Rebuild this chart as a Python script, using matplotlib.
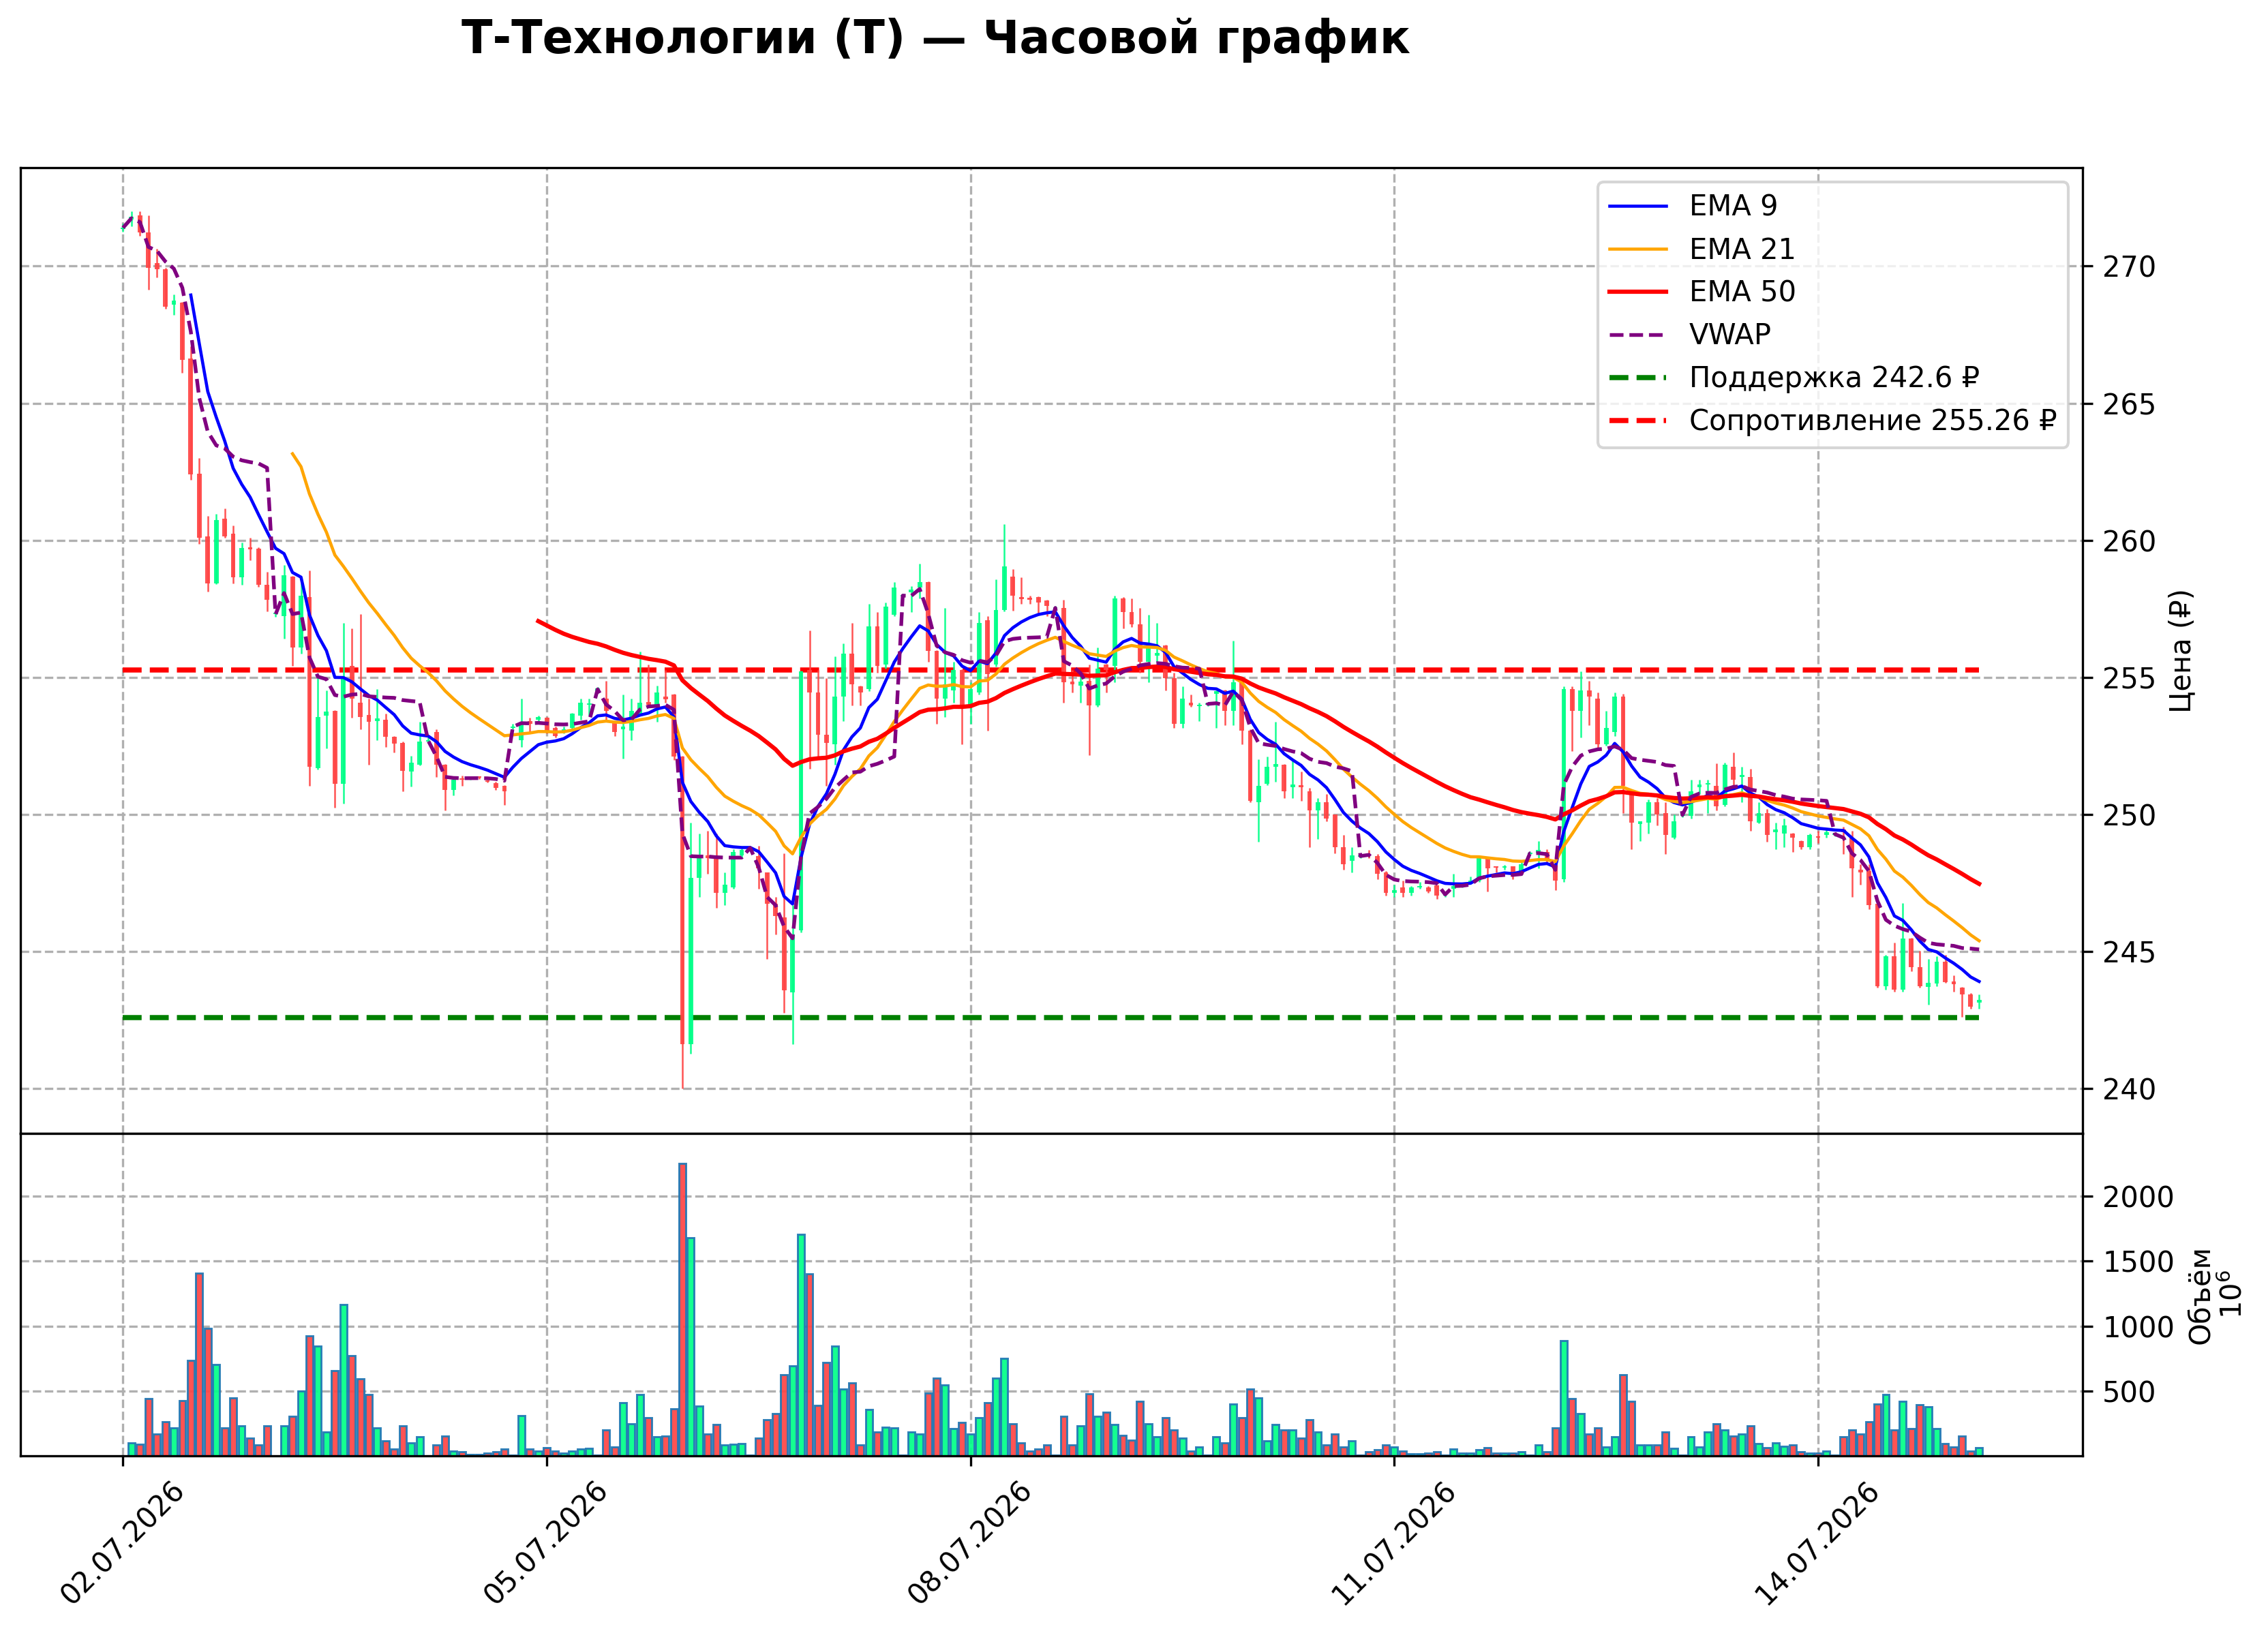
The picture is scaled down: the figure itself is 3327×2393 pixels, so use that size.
import numpy as np
import pandas as pd
import matplotlib
matplotlib.use('Agg')
import matplotlib.pyplot as plt

title = 'Т-Технологии (T) — Часовой график'

# trading days and number of hourly candles in each
day_dates = ['02.07.2026', '03.07.2026', '04.07.2026', '05.07.2026', '06.07.2026',
             '07.07.2026', '08.07.2026', '09.07.2026', '10.07.2026', '11.07.2026',
             '12.07.2026', '13.07.2026', '14.07.2026', '15.07.2026']
day_counts = [18, 18, 10, 10, 18, 18, 18, 18, 18, 10, 10, 18, 18, 18]

opens = [
    271.35, 271.70, 271.84, 271.23, 270.10, 269.88, 268.60, 268.67, 266.63, 262.44, 260.15, 258.43, 260.78, 260.24, 258.64, 259.75, 259.70, 258.37,
    257.30, 257.23, 258.67, 256.08, 257.92, 251.69, 253.60, 253.77, 251.11, 255.42, 254.07, 253.62, 253.40, 253.46, 252.83, 252.62, 251.57, 251.81,
    252.65, 253.01, 251.81, 250.90, 251.32, 251.30, 251.36, 251.25, 251.15, 251.05,
    253.15, 252.71, 253.40, 253.45, 253.52, 253.16, 253.05, 253.16, 253.61, 254.00,
    254.50, 254.22, 253.37, 253.12, 253.07, 253.61, 254.10, 253.98, 254.30, 254.37, 252.11, 241.63, 247.68, 248.50, 248.49, 247.14, 247.35, 248.50,
    248.75, 248.49, 247.89, 246.75, 246.24, 243.52, 245.78, 255.27, 254.46, 252.92, 252.56, 254.31, 255.87, 254.67, 254.58, 256.87, 255.48, 257.29,
    257.95, 258.10, 258.28, 258.49, 255.96, 254.22, 254.52, 255.27, 253.98, 254.46, 257.08, 255.48, 257.47, 258.67, 257.92, 257.90, 257.92, 257.80,
    257.50, 257.53, 254.85, 254.70, 254.88, 253.98, 255.48, 255.42, 257.89, 257.38, 256.93, 255.57, 255.80, 256.17, 254.97, 253.31, 254.07, 253.95,
    254.00, 254.40, 254.52, 253.77, 254.82, 253.07, 250.45, 251.11, 251.75, 251.81, 251.00, 251.08, 250.84, 250.15, 250.45, 250.00, 248.80, 248.30,
    248.45, 248.55, 248.49, 247.89, 247.15, 247.35, 247.14, 247.35, 247.35, 247.41,
    247.05, 247.30, 247.40, 247.55, 247.59, 248.43, 248.10, 248.05, 248.10, 247.83,
    248.55, 248.60, 248.64, 248.19, 247.65, 254.58, 253.77, 254.52, 254.22, 252.56, 253.01, 254.31, 250.75, 249.65, 249.70, 250.45, 250.06, 249.16,
    249.95, 249.94, 251.00, 251.10, 251.05, 250.36, 251.75, 251.36, 251.36, 249.70, 250.06, 249.35, 249.31, 249.31, 249.04, 248.80, 249.20, 249.25,
    249.25, 249.45, 249.16, 248.00, 247.95, 246.75, 243.74, 244.82, 243.62, 245.48, 244.43, 243.70, 243.83, 244.64, 243.90, 243.68, 243.44, 243.15,
]
highs = [
    271.55, 272.00, 272.00, 271.84, 270.63, 269.94, 268.98, 268.70, 267.08, 263.01, 260.90, 260.96, 261.17, 260.54, 259.91, 260.09, 259.75, 258.86,
    257.40, 259.10, 258.70, 258.43, 258.89, 255.00, 254.52, 253.80, 256.99, 256.78, 257.32, 254.22, 254.58, 253.67, 252.86, 252.65, 252.14, 253.37,
    252.80, 253.10, 251.85, 251.30, 251.42, 251.40, 251.40, 251.28, 251.20, 251.08,
    253.30, 254.22, 253.52, 253.60, 253.55, 253.20, 253.20, 253.70, 254.22, 254.22,
    254.65, 254.88, 253.40, 254.37, 254.22, 255.93, 255.48, 254.70, 255.27, 254.40, 252.15, 249.70, 249.31, 249.40, 249.31, 247.89, 248.73, 248.75,
    248.85, 248.85, 247.90, 246.99, 248.58, 246.70, 255.25, 256.72, 255.27, 254.97, 255.78, 256.24, 256.99, 254.70, 257.68, 257.38, 257.74, 258.49,
    258.05, 258.34, 259.16, 258.50, 256.00, 257.53, 255.57, 255.30, 254.82, 257.38, 257.23, 258.58, 260.60, 258.95, 258.64, 257.98, 257.95, 257.83,
    257.60, 257.83, 255.27, 255.06, 255.48, 256.08, 255.50, 257.98, 257.92, 257.89, 257.53, 257.29, 256.99, 256.20, 255.18, 254.67, 254.37, 254.07,
    254.10, 254.52, 254.55, 256.33, 254.85, 253.10, 252.02, 252.11, 253.37, 251.84, 251.96, 251.57, 250.96, 250.60, 250.75, 250.00, 249.25, 248.80,
    248.55, 248.70, 248.55, 247.95, 247.44, 247.59, 247.40, 247.53, 247.40, 247.44,
    247.15, 247.83, 247.50, 247.74, 248.46, 248.46, 248.12, 248.15, 248.10, 248.25,
    248.65, 249.04, 248.73, 248.20, 254.67, 254.67, 255.21, 254.88, 254.46, 253.77, 254.46, 254.40, 250.78, 249.76, 250.54, 250.60, 250.45, 250.00,
    250.05, 251.27, 251.27, 251.27, 251.87, 251.90, 252.26, 251.75, 251.66, 250.45, 250.21, 249.70, 249.85, 249.33, 249.05, 249.31, 249.40, 249.46,
    249.35, 249.55, 249.40, 248.19, 248.19, 246.84, 244.88, 245.33, 246.78, 245.50, 245.03, 244.73, 244.82, 244.88, 244.13, 243.70, 243.50, 243.44,
]
lows = [
    271.25, 271.45, 271.10, 269.13, 269.58, 268.45, 268.22, 266.11, 262.20, 259.88, 258.13, 258.40, 260.09, 258.43, 258.37, 259.28, 258.30, 257.41,
    257.20, 256.42, 255.42, 255.87, 251.05, 251.65, 252.41, 250.24, 250.39, 253.52, 253.10, 251.81, 252.71, 252.47, 252.26, 250.84, 251.02, 251.80,
    252.60, 251.36, 250.15, 250.69, 251.05, 251.28, 251.30, 251.17, 250.90, 250.36,
    253.10, 252.47, 253.01, 253.40, 252.95, 252.80, 252.95, 253.10, 253.46, 253.61,
    254.45, 253.37, 252.86, 252.05, 252.71, 253.60, 253.92, 253.37, 254.07, 252.00, 240.00, 241.27, 246.99, 247.83, 246.60, 246.69, 247.29, 248.40,
    248.70, 247.29, 244.73, 245.63, 242.77, 241.63, 245.70, 251.66, 252.11, 251.05, 251.81, 253.40, 253.98, 253.98, 254.50, 255.18, 255.33, 257.23,
    257.90, 257.38, 257.89, 255.57, 253.31, 253.55, 254.07, 252.56, 253.31, 254.37, 253.07, 255.40, 257.40, 257.44, 257.68, 257.68, 257.32, 257.23,
    257.45, 254.07, 254.46, 254.07, 252.17, 253.92, 254.46, 254.82, 256.78, 256.84, 255.18, 254.82, 255.57, 254.52, 253.16, 253.16, 253.92, 253.40,
    253.95, 253.16, 253.25, 253.25, 252.56, 250.45, 249.01, 251.08, 251.20, 250.60, 250.60, 250.51, 248.80, 249.10, 249.76, 248.58, 247.98, 247.89,
    248.40, 248.40, 247.65, 247.05, 246.99, 246.99, 247.05, 247.30, 247.14, 246.93,
    247.00, 246.99, 247.35, 247.47, 247.53, 247.20, 247.89, 248.00, 247.65, 247.80,
    248.50, 248.04, 248.25, 247.23, 247.53, 252.32, 252.80, 253.25, 252.41, 252.50, 252.86, 250.06, 248.73, 249.04, 249.31, 249.61, 248.55, 249.10,
    249.90, 249.85, 250.75, 250.06, 250.15, 250.30, 251.05, 250.45, 249.40, 249.69, 249.01, 248.73, 248.80, 248.64, 248.73, 248.73, 248.95, 249.16,
    249.20, 248.55, 246.99, 247.44, 246.54, 243.68, 243.62, 243.53, 243.53, 244.28, 243.68, 243.07, 243.74, 243.86, 243.53, 242.62, 242.92, 242.92,
]
closes = [
    271.40, 271.80, 271.23, 269.94, 269.90, 268.52, 268.75, 266.57, 262.41, 260.09, 258.43, 260.75, 260.15, 258.64, 259.73, 259.68, 258.37, 257.83,
    257.30, 258.73, 256.08, 257.98, 251.75, 253.55, 253.75, 251.11, 254.97, 254.22, 253.55, 253.37, 253.50, 252.83, 252.59, 251.60, 251.90, 252.65,
    252.70, 251.81, 250.90, 251.27, 251.27, 251.36, 251.35, 251.20, 250.96, 250.84,
    253.20, 253.31, 253.30, 253.55, 253.01, 252.86, 253.10, 253.67, 254.07, 254.05,
    254.60, 253.77, 253.01, 253.22, 253.77, 254.07, 254.00, 254.46, 254.20, 252.11, 241.63, 247.68, 248.49, 248.40, 247.14, 247.44, 248.64, 248.70,
    248.80, 248.04, 246.75, 246.30, 243.58, 245.63, 255.21, 254.46, 252.92, 252.62, 254.31, 255.87, 254.76, 254.46, 256.87, 255.42, 257.59, 258.28,
    258.00, 258.20, 258.49, 255.96, 254.22, 254.76, 255.27, 253.92, 254.58, 256.99, 255.12, 257.47, 259.04, 257.98, 257.86, 257.82, 257.74, 257.60,
    257.55, 254.82, 254.76, 254.85, 253.98, 255.33, 255.27, 257.89, 257.38, 256.93, 255.57, 256.08, 255.90, 254.97, 253.31, 254.22, 253.98, 254.00,
    254.05, 254.50, 253.77, 254.82, 253.07, 250.51, 251.05, 251.75, 251.84, 250.84, 251.10, 250.99, 250.15, 250.45, 249.85, 248.80, 248.19, 248.50,
    248.50, 248.50, 247.83, 247.14, 247.25, 247.14, 247.35, 247.40, 247.20, 247.05,
    247.10, 247.40, 247.45, 247.60, 248.43, 248.04, 248.05, 248.10, 247.74, 248.19,
    248.60, 248.70, 248.34, 247.59, 254.58, 253.77, 254.52, 254.31, 252.56, 253.16, 254.31, 251.05, 249.70, 249.75, 250.45, 250.00, 249.25, 249.76,
    250.00, 250.84, 251.10, 251.15, 250.30, 251.81, 251.27, 251.45, 249.76, 250.06, 249.25, 249.45, 249.61, 249.16, 248.80, 249.25, 249.15, 249.35,
    249.30, 249.35, 248.04, 247.90, 246.69, 243.74, 244.82, 243.62, 245.48, 244.43, 243.74, 243.85, 244.64, 243.89, 243.80, 243.44, 242.98, 243.25,
]
# volume, millions of shares
volumes = [
    1, 102, 89, 440, 166, 261, 217, 427, 733, 1408, 981, 701, 217, 446, 229, 134, 83, 229,
    2, 229, 306, 497, 924, 847, 185, 656, 1166, 771, 592, 471, 217, 115, 51, 229, 102, 147,
    2, 83, 153, 38, 32, 13, 13, 19, 32, 51,
    3, 312, 51, 38, 64, 38, 19, 38, 51, 57,
    3, 197, 70, 408, 248, 471, 293, 147, 153, 363, 2255, 1682, 382, 166, 242, 83, 89, 96,
    3, 134, 280, 325, 624, 694, 1707, 1401, 389, 720, 847, 516, 561, 83, 357, 185, 223, 217,
    3, 185, 166, 484, 599, 548, 210, 255, 166, 293, 408, 599, 752, 248, 102, 38, 51, 83,
    3, 306, 83, 229, 478, 306, 338, 242, 159, 121, 420, 248, 147, 293, 197, 134, 38, 70,
    3, 147, 102, 401, 293, 516, 446, 115, 242, 197, 197, 134, 280, 185, 83, 166, 70, 115,
    3, 32, 45, 83, 70, 38, 15, 15, 19, 32,
    3, 51, 19, 19, 45, 64, 19, 19, 19, 32,
    3, 83, 32, 217, 886, 440, 325, 166, 217, 70, 147, 624, 420, 83, 83, 83, 185, 57,
    3, 147, 70, 185, 248, 197, 153, 166, 229, 96, 64, 102, 76, 83, 32, 19, 19, 38,
    3, 147, 197, 166, 261, 401, 471, 197, 420, 210, 395, 376, 210, 96, 70, 153, 38, 64,
]

support = 242.6
resistance = 255.26

o = np.array(opens); h = np.array(highs); l = np.array(lows); c = np.array(closes)
v = np.array(volumes, dtype=float)
x = np.arange(len(c))
day_id = np.repeat(np.arange(len(day_counts)), day_counts)


def ema(values, n):
    # seeded with the simple average of the first n values
    out = np.full(len(values), np.nan)
    out[n - 1] = values[:n].mean()
    k = 2.0 / (n + 1)
    for i in range(n, len(values)):
        out[i] = values[i] * k + out[i - 1] * (1 - k)
    return out


ema9 = ema(c, 9)
ema21 = ema(c, 21)
ema50 = ema(c, 50)

# intraday VWAP, reset every trading day
df = pd.DataFrame({'tp': (h + l + c) / 3, 'v': v, 'day': day_id})
df['pv'] = df['tp'] * df['v']
vwap = (df.groupby('day')['pv'].cumsum() / df.groupby('day')['v'].cumsum()).values

up_col = '#00ff88'
dn_col = '#ff4444'
up = c >= o
cols = np.where(up, up_col, dn_col)

fig = plt.figure(figsize=(3327 / 300, 2393 / 300), dpi=300)
ax = fig.add_axes([0.00902, 0.3051, 0.9092, 0.5919])
axv = fig.add_axes([0.00902, 0.1074, 0.9092, 0.1977], sharex=ax)

# candles
ax.vlines(x, l, h, colors=cols, lw=0.6, alpha=0.92, zorder=3)
body = np.maximum(np.abs(c - o), 0.05)
ax.bar(x, body, bottom=np.minimum(o, c), width=0.55, color=cols, alpha=0.92,
       linewidth=0, zorder=3)

ax.plot(x, ema9, color='blue', lw=1.1, label='EMA 9', zorder=4)
ax.plot(x, ema21, color='orange', lw=1.1, label='EMA 21', zorder=4)
ax.plot(x, ema50, color='red', lw=1.5, label='EMA 50', zorder=4)
ax.plot(x, vwap, color='purple', ls='--', lw=1.3, label='VWAP', zorder=4)
ax.plot([x[0], x[-1]], [support, support], color='green', ls='--', lw=1.8,
        label=f'Поддержка {support} ₽', zorder=2)
ax.plot([x[0], x[-1]], [resistance, resistance], color='red', ls='--', lw=1.8,
        label=f'Сопротивление {resistance} ₽', zorder=2)

ax.set_xlim(-12.1, 231.2)
ax.set_ylim(238.37, 273.58)
ax.set_yticks(np.arange(240, 271, 5))
ax.yaxis.tick_right()
ax.yaxis.set_label_position('right')
ax.set_ylabel('Цена (₽)')
ax.tick_params(axis='x', length=0, labelbottom=False)
ax.grid(True, ls='--', lw=0.8, color='#b0b0b0')
ax.set_axisbelow(True)
ax.legend(loc='upper right')

# volume
axv.bar(x, v, width=0.8, color=cols, alpha=0.92, edgecolor='#1f77b4', linewidth=0.7)
axv.set_ylim(0, 2484)
axv.set_yticks([500, 1000, 1500, 2000])
axv.yaxis.tick_right()
axv.yaxis.set_label_position('right')
axv.set_ylabel('Объём\n$10^{6}$')
axv.grid(True, ls='--', lw=0.8, color='#b0b0b0')
axv.set_axisbelow(True)

tick_idx = [0, 50, 100, 150, 200]
axv.set_xticks(tick_idx)
axv.set_xticklabels([day_dates[day_id[i]] for i in tick_idx], rotation=45)

fig.text(0.4127, 0.9753, title, ha='center', va='center', fontsize=16, fontweight='bold')

fig.savefig('out.png', dpi=300)
